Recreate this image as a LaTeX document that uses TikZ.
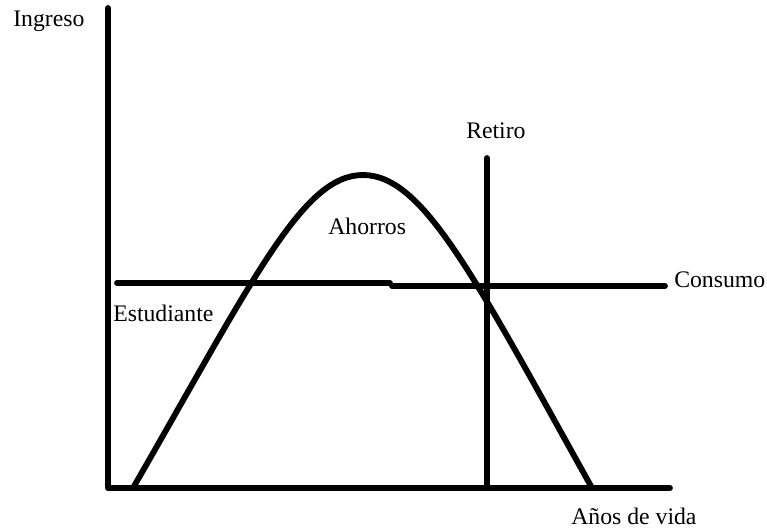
\documentclass[tikz,border=0pt]{standalone}
\usepackage{fontspec}
\setmainfont{Liberation Serif}
\begin{document}
\begin{tikzpicture}[x=0.75pt,y=-0.75pt,
  lbl/.style={inner sep=0pt,anchor=base west,font=\fontsize{17.8}{20}\selectfont},
  thick line/.style={line width=4.4pt,line cap=round,line join=round}]
\useasboundingbox (0,0) rectangle (767,531);
% coordinates
\coordinate (ytop) at (108,8);
\coordinate (origin) at (108,488);
\coordinate (xend) at (670,488);
\coordinate (rtop) at (487,158);
\coordinate (rbot) at (487,488);
\coordinate (cl) at (117,283);
\coordinate (cm1) at (390,283);
\coordinate (cm2) at (392,286);
\coordinate (cr) at (665,286);
\coordinate (cs) at (133,488);
\coordinate (peak) at (363,175);
\coordinate (ce) at (592,488);
% axes
\draw[thick line] (ytop) -- (origin) -- (xend);
% retiro
\draw[thick line] (rtop) -- (rbot);
% consumo
\draw[thick line] (cl) -- (cm1);
\draw[thick line] (cm2) -- (cr);
% ingreso curve
\draw[thick line] (cs) .. controls (255,276) and (303,175) .. (peak)
  .. controls (423,175) and (474,276) .. (ce);
% labels
\node[lbl] (ingreso) at (13,27) {Ingreso};
\node[lbl] (retiro) at (466,139) {Retiro};
\node[lbl] (ahorros) at (328,234) {Ahorros};
\node[lbl] (consumo) at (674,287) {Consumo};
\node[lbl] (estudiante) at (113,321) {Estudiante};
\node[lbl] (anos) at (571,524) {Años de vida};
\end{tikzpicture}
\end{document}
